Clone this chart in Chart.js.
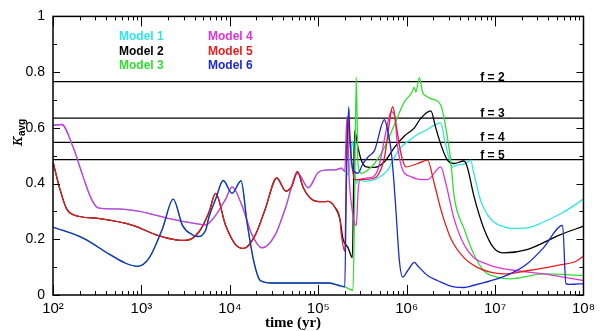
<!DOCTYPE html>
<html>
<head>
<meta charset="utf-8">
<script src="https://cdn.jsdelivr.net/npm/chart.js@4.4.1/dist/chart.umd.min.js"></script>
<style>
  html, body { margin: 0; padding: 0; background: #fff; }
</style>
</head>
<body>
<canvas id="kappaChart" width="600" height="331"></canvas>
<script>
// axis ticks
const xTicks = [1e2, 1e3, 1e4, 1e5, 1e6, 1e7, 1e8];
const xTickLabels = ['10²', '10³', '10⁴', '10⁵', '10⁶', '10⁷', '10⁸'];
const yTicks = [0, 0.2, 0.4, 0.6, 0.8, 1];
const yTickLabels = ['0', '0.2', '0.4', '0.6', '0.8', '1'];

// reference levels
const fLevels = [0.766, 0.635, 0.548, 0.486];
const fLabels = ['f = 2', 'f = 3', 'f = 4', 'f = 5'];

const modelNames = ['Model 1', 'Model 2', 'Model 3', 'Model 4', 'Model 5', 'Model 6'];
const modelColors = ['#2ee6e6', '#000000', '#33dd33', '#dd33dd', '#e81c1c', '#1c2ad0'];

// times are log10(t / yr); models overlap in pairs until ~2e5 yr
const earlyA_T = [2.0, 2.098, 2.228, 2.34, 2.435, 2.509, 2.716, 2.978, 3.315, 3.615, 3.727, 3.839, 3.952, 4.026, 4.138, 4.251, 4.363, 4.513, 4.626, 4.767, 4.888, 5.0, 5.112, 5.188, 5.262, 5.30];
const earlyA_K = [0.609, 0.612, 0.53, 0.425, 0.344, 0.313, 0.309, 0.30, 0.274, 0.256, 0.252, 0.286, 0.344, 0.388, 0.32, 0.216, 0.169, 0.216, 0.309, 0.437, 0.385, 0.44, 0.449, 0.449, 0.455, 0.444];

const earlyB_T = [2.0, 2.079, 2.154, 2.228, 2.528, 2.902, 3.165, 3.39, 3.50, 3.652, 3.764, 3.839, 3.952, 4.064, 4.157, 4.289, 4.401, 4.531, 4.633, 4.70, 4.764, 4.831, 4.925, 5.037, 5.112, 5.188, 5.244];
const earlyB_K = [0.478, 0.379, 0.309, 0.288, 0.274, 0.25, 0.216, 0.198, 0.196, 0.227, 0.297, 0.365, 0.25, 0.181, 0.167, 0.216, 0.309, 0.42, 0.373, 0.39, 0.443, 0.385, 0.344, 0.335, 0.336, 0.315, 0.274];

const earlyC_T = [2.0, 2.34, 2.64, 2.828, 2.958, 3.09, 3.239, 3.36, 3.464, 3.576, 3.633, 3.727, 3.764, 3.839, 3.925, 4.026, 4.127, 4.194, 4.27, 4.345, 4.475, 5.112, 5.225, 5.30];
const earlyC_K = [0.244, 0.204, 0.146, 0.113, 0.103, 0.134, 0.239, 0.344, 0.25, 0.216, 0.21, 0.233, 0.28, 0.344, 0.411, 0.365, 0.41, 0.262, 0.122, 0.052, 0.043, 0.043, 0.035, 0.029];

const m1T = [5.318, 5.345, 5.37, 5.39, 5.412, 5.43, 5.449, 5.525, 5.637, 5.787, 5.862, 5.936, 6.048, 6.124, 6.199, 6.385, 6.424, 6.517, 6.573, 6.666, 6.722, 6.76, 6.835, 6.91, 6.985, 7.098, 7.172, 7.36, 7.547, 7.772, 8.0];
const m1K = [0.44, 0.43, 0.52, 0.55, 0.45, 0.40, 0.414, 0.408, 0.414, 0.449, 0.495, 0.53, 0.559, 0.577, 0.588, 0.618, 0.565, 0.46, 0.466, 0.472, 0.484, 0.437, 0.34, 0.29, 0.262, 0.245, 0.239, 0.241, 0.262, 0.297, 0.344];

const m2T = [5.281, 5.337, 5.385, 5.412, 5.449, 5.487, 5.543, 5.637, 5.749, 5.862, 5.974, 6.087, 6.161, 6.273, 6.329, 6.385, 6.461, 6.536, 6.648, 6.685, 6.76, 6.873, 6.985, 7.098, 7.36, 7.734, 8.0];
const m2K = [0.20, 0.17, 0.134, 0.59, 0.53, 0.484, 0.46, 0.458, 0.478, 0.53, 0.571, 0.60, 0.635, 0.661, 0.60, 0.542, 0.484, 0.472, 0.481, 0.46, 0.356, 0.239, 0.169, 0.151, 0.163, 0.216, 0.247];

const m3T = [5.393, 5.41, 5.43, 5.442, 5.449, 5.487, 5.562, 5.637, 5.749, 5.862, 5.974, 6.048, 6.067, 6.087, 6.104, 6.143, 6.18, 6.236, 6.273, 6.385, 6.424, 6.461, 6.498, 6.536, 6.648, 6.76, 6.873, 7.022, 7.172, 7.547, 8.0];
const m3K = [0.017, 0.30, 0.781, 0.588, 0.472, 0.437, 0.449, 0.472, 0.53, 0.612, 0.693, 0.722, 0.734, 0.745, 0.728, 0.78, 0.728, 0.711, 0.705, 0.682, 0.635, 0.565, 0.484, 0.356, 0.239, 0.146, 0.087, 0.064, 0.058, 0.076, 0.07];

const m4T = [5.318, 5.33, 5.345, 5.374, 5.43, 5.45, 5.469, 5.562, 5.674, 5.767, 5.824, 5.862, 5.899, 5.955, 6.048, 6.124, 6.236, 6.385, 6.442, 6.536, 6.648, 6.76, 6.91, 7.022, 7.247, 7.547, 7.772, 8.0];
const m4K = [0.60, 0.641, 0.45, 0.33, 0.25, 0.367, 0.414, 0.42, 0.449, 0.588, 0.658, 0.647, 0.53, 0.449, 0.425, 0.416, 0.414, 0.46, 0.402, 0.274, 0.181, 0.134, 0.111, 0.099, 0.087, 0.076, 0.064, 0.052];

const m5T = [5.262, 5.30, 5.33, 5.345, 5.374, 5.412, 5.487, 5.637, 5.749, 5.824, 5.843, 5.88, 5.936, 5.992, 6.124, 6.236, 6.311, 6.385, 6.498, 6.648, 6.798, 6.947, 7.098, 7.36, 7.734, 7.921, 8.0];
const m5K = [0.216, 0.157, 0.641, 0.60, 0.484, 0.414, 0.414, 0.42, 0.495, 0.658, 0.676, 0.612, 0.507, 0.46, 0.472, 0.484, 0.402, 0.309, 0.204, 0.134, 0.099, 0.082, 0.076, 0.087, 0.108, 0.122, 0.14];

const m6T = [5.318, 5.345, 5.356, 5.374, 5.393, 5.449, 5.506, 5.562, 5.637, 5.749, 5.787, 5.824, 5.854, 5.88, 5.918, 5.955, 6.011, 6.087, 6.124, 6.236, 6.348, 6.536, 6.648, 6.76, 7.022, 7.172, 7.36, 7.547, 7.764, 7.801, 7.846, 8.0];
const m6K = [0.40, 0.676, 0.588, 0.495, 0.449, 0.437, 0.472, 0.495, 0.519, 0.629, 0.588, 0.519, 0.414, 0.297, 0.122, 0.064, 0.087, 0.117, 0.105, 0.07, 0.052, 0.029, 0.027, 0.035, 0.058, 0.076, 0.111, 0.169, 0.25, 0.041, 0.038, 0.041];

function toPoints(logT, k) {
  return logT.map((e, i) => ({ x: Math.pow(10, e), y: k[i] }));
}

const modelSeries = [
  [earlyA_T.concat(m1T), earlyA_K.concat(m1K)],
  [earlyB_T.concat(m2T), earlyB_K.concat(m2K)],
  [earlyC_T.concat(m3T), earlyC_K.concat(m3K)],
  [earlyA_T.concat(m4T), earlyA_K.concat(m4K)],
  [earlyB_T.concat(m5T), earlyB_K.concat(m5K)],
  [earlyC_T.concat(m6T), earlyC_K.concat(m6K)],
];
// which curve ends up on top
const drawOrder = [6, 5, 4, 3, 2, 1];

const datasets = modelSeries.map((s, i) => ({
  label: modelNames[i],
  data: toPoints(s[0], s[1]),
  borderColor: modelColors[i],
  borderWidth: 1.3,
  pointRadius: 0,
  cubicInterpolationMode: 'monotone',
  order: drawOrder[i],
}));

fLevels.forEach((lvl, i) => {
  datasets.push({
    label: fLabels[i],
    data: [{ x: xTicks[0], y: lvl }, { x: xTicks[xTicks.length - 1], y: lvl }],
    borderColor: '#000',
    borderWidth: 1.1,
    pointRadius: 0,
    order: 10,
  });
});

// frame, inward ticks, labels and legend text
const decorations = {
  id: 'decorations',
  afterDraw(chart) {
    const { ctx, chartArea: a, scales: { x, y } } = chart;
    ctx.save();
    ctx.strokeStyle = '#000';
    ctx.lineWidth = 1;
    ctx.beginPath();
    for (let d = 2; d < 8; d++) {
      for (let k = 1; k < 10; k++) {
        const px = Math.round(x.getPixelForValue(k * Math.pow(10, d))) + 0.5;
        const len = k === 1 ? 10 : 4;
        ctx.moveTo(px, a.bottom); ctx.lineTo(px, a.bottom - len);
        ctx.moveTo(px, a.top); ctx.lineTo(px, a.top + len);
      }
    }
    for (let v = 0; v <= 10; v++) {
      const py = Math.round(y.getPixelForValue(v / 10)) + 0.5;
      const len = v % 2 === 0 ? 7 : 4;
      ctx.moveTo(a.left, py); ctx.lineTo(a.left + len, py);
      ctx.moveTo(a.right, py); ctx.lineTo(a.right - len, py);
    }
    ctx.stroke();
    ctx.lineWidth = 1.5;
    ctx.strokeRect(a.left, a.top, a.right - a.left, a.bottom - a.top);

    // f labels
    ctx.fillStyle = '#000';
    ctx.font = 'bold 12px "Liberation Sans"';
    ctx.textBaseline = 'alphabetic';
    const fx = x.getPixelForValue(6.8e6);
    fLevels.forEach((lvl, i) => {
      ctx.fillText(fLabels[i], fx, y.getPixelForValue(lvl) - 1);
    });

    // legend
    ctx.font = 'bold 12px "Liberation Sans"';
    modelNames.forEach((name, i) => {
      const col = Math.floor(i / 3);
      const row = i % 3;
      ctx.fillStyle = modelColors[i];
      ctx.fillText(name, 119 + col * 89, 40 + row * 14.5);
    });

    // x title
    ctx.fillStyle = '#000';
    ctx.font = 'bold 15px "Liberation Serif"';
    ctx.textAlign = 'center';
    ctx.fillText('time (yr)', 293, 327);

    // y title: kappa_avg
    ctx.translate(22, 146);
    ctx.rotate(-Math.PI / 2);
    ctx.textAlign = 'left';
    ctx.font = 'italic 16px "DejaVu Serif"';
    ctx.fillText('κ', 0, 0);
    ctx.font = 'bold 10px "Liberation Sans"';
    ctx.fillText('avg', 10, 3);
    ctx.restore();
  }
};

const ctx = document.getElementById('kappaChart').getContext('2d');
new Chart(ctx, {
  type: 'line',
  data: { datasets: datasets },
  options: {
    responsive: false,
    animation: false,
    devicePixelRatio: 1,
    layout: { padding: { top: 9, right: 13, left: 0, bottom: 0 } },
    plugins: { legend: { display: false }, tooltip: { enabled: false } },
    scales: {
      x: {
        type: 'logarithmic',
        min: 1e2,
        max: 1e8,
        afterBuildTicks: (s) => { s.ticks = xTicks.map((v) => ({ value: v })); },
        afterFit: (s) => { s.height = 36; },
        grid: { display: false, drawTicks: false },
        border: { display: false },
        ticks: {
          autoSkip: false, maxRotation: 0, padding: 5, color: '#000',
          font: { family: 'Liberation Sans', size: 15 },
          callback: (v, i) => xTickLabels[i],
        },
      },
      y: {
        min: 0,
        max: 1,
        afterBuildTicks: (s) => { s.ticks = yTicks.map((v) => ({ value: v })); },
        afterFit: (s) => { s.width = 53; },
        grid: { display: false, drawTicks: false },
        border: { display: false },
        ticks: {
          padding: 8, color: '#000',
          font: { family: 'Liberation Sans', size: 14 },
          callback: (v, i) => yTickLabels[i],
        },
      },
    },
  },
  plugins: [decorations],
});
</script>
</body>
</html>
